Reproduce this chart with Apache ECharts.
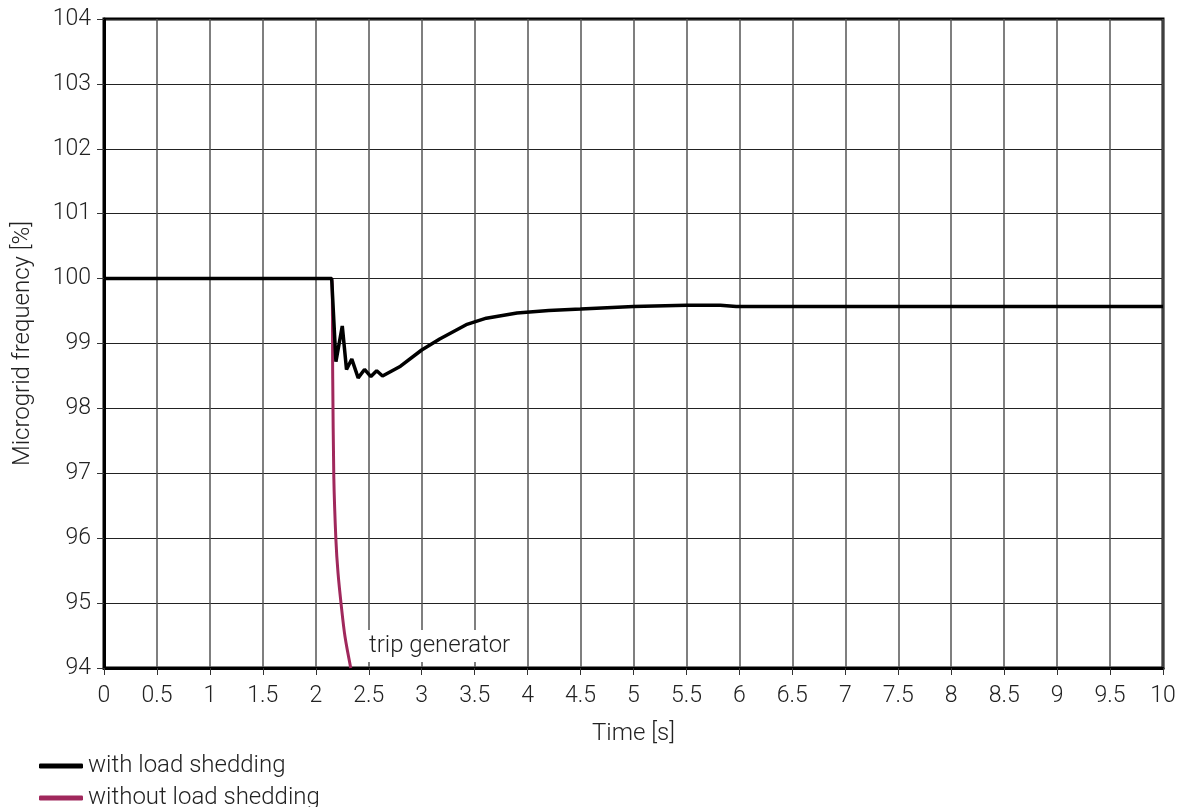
<!DOCTYPE html>
<html>
<head>
<meta charset="utf-8">
<script src="https://cdn.jsdelivr.net/npm/echarts@6/dist/echarts.min.js"></script>
<style>html,body{margin:0;padding:0;background:#fff}#c{width:1179px;height:807px}</style>
</head>
<body>
<div id="c"></div>
<script>
const xTicks = [0,0.5,1,1.5,2,2.5,3,3.5,4,4.5,5,5.5,6,6.5,7,7.5,8,8.5,9,9.5,10];
const yTicks = [94,95,96,97,98,99,100,101,102,103,104];
const withShedding = [
  [0,100],[2.15,100],[2.19,98.72],[2.25,99.27],[2.29,98.6],[2.34,98.76],[2.40,98.47],
  [2.46,98.6],[2.52,98.49],[2.575,98.58],[2.63,98.5],[2.8,98.65],[3.0,98.9],[3.17,99.07],
  [3.42,99.29],[3.61,99.39],[3.9,99.47],[4.2,99.51],[4.5,99.53],[5.0,99.57],[5.5,99.59],
  [5.82,99.59],[5.97,99.57],[10,99.57]
];
const withoutShedding = [
  [0,100],[2.15,100],[2.16,98.44],[2.17,96.95],[2.19,95.97],[2.21,95.46],[2.24,94.97],
  [2.276,94.48],[2.33,94.0]
];
const annotation = {text:'trip generator', x:2.474, y:94.34};

const FONT = 'Roboto';
const FW = 300;
const TXT = '#222';
const chart = echarts.init(document.getElementById('c'));
chart.setOption({
  animation:false,
  textStyle:{fontFamily:FONT, fontWeight:FW},
  grid:{left:104,right:16,top:19,bottom:139,show:true,borderColor:'#000',borderWidth:3,
    backgroundColor:'transparent',containLabel:false,outerBoundsMode:'none'},
  xAxis:{
    type:'value',min:0,max:10,interval:0.5,
    name:'Time [s]',nameLocation:'middle',nameGap:54,
    nameTextStyle:{fontSize:24,color:TXT,fontFamily:FONT,fontWeight:FW},
    axisLine:{show:true,lineStyle:{color:'#000',width:3}},
    axisTick:{show:true,length:7,lineStyle:{color:'#333',width:1}},
    axisLabel:{fontSize:23,color:TXT,margin:17,fontFamily:FONT,fontWeight:FW,
      formatter:v=>xTicks.includes(+v.toFixed(2))?String(+v.toFixed(2)):''},
    splitLine:{show:true,lineStyle:{color:'#555',width:1.5}}
  },
  yAxis:{
    type:'value',min:94,max:104,interval:1,
    name:'Microgrid frequency [%]',nameLocation:'middle',nameGap:69,
    nameTextStyle:{fontSize:24,color:TXT,fontFamily:FONT,fontWeight:FW},
    axisLine:{show:true,lineStyle:{color:'#000',width:3}},
    axisTick:{show:true,length:7,lineStyle:{color:'#333',width:1}},
    axisLabel:{fontSize:23,color:TXT,margin:13,fontFamily:FONT,fontWeight:FW,
      formatter:v=>yTicks.includes(v)?String(v):''},
    splitLine:{show:true,lineStyle:{color:'#222',width:1}}
  },
  legend:[
    {orient:'vertical',left:34,top:749,itemWidth:44,itemHeight:5,icon:'roundRect',
     textStyle:{fontSize:24,color:TXT,fontFamily:FONT,fontWeight:FW},
     data:['with load shedding']},
    {orient:'vertical',left:34,top:781,itemWidth:44,itemHeight:5,icon:'roundRect',
     textStyle:{fontSize:24,color:TXT,fontFamily:FONT,fontWeight:FW},
     data:['without load shedding']}
  ],
  series:[
    {
      name:'without load shedding',type:'line',data:withoutShedding,showSymbol:false,
      smooth:0.3,
      lineStyle:{color:'#a0285c',width:3},itemStyle:{color:'#a0285c'},z:2,
      markPoint:{
        symbol:'rect',symbolSize:0,silent:true,
        data:[{coord:[annotation.x,annotation.y],value:annotation.text}],
        label:{show:true,position:'right',distance:0,formatter:annotation.text,
          fontSize:24,color:TXT,fontFamily:FONT,fontWeight:FW,
          backgroundColor:'#fff',padding:[4,3,4,3]}
      }
    },
    {
      name:'with load shedding',type:'line',data:withShedding,showSymbol:false,
      lineStyle:{color:'#000',width:3.5},itemStyle:{color:'#000'},z:3
    }
  ]
});
</script>
</body>
</html>
